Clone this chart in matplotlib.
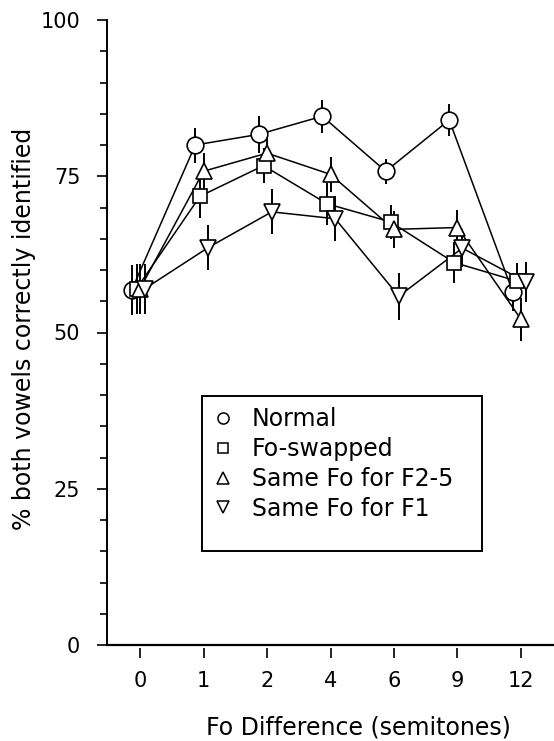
import numpy as np
from matplotlib import pyplot as plt
from matplotlib.lines import Line2D
from matplotlib.patches import Rectangle
from matplotlib.ticker import MultipleLocator

# Fo difference conditions (semitones), plotted as equally spaced categories
fo_diff = ['0', '1', '2', '4', '6', '9', '12']

normal = [56.8, 80.0, 81.7, 84.6, 75.8, 84.0, 56.5]
normal_err = [4.0, 2.8, 2.9, 2.6, 2.0, 2.5, 3.0]

fo_swapped = [57.0, 71.8, 76.7, 70.6, 67.7, 61.2, 58.2]
fo_swapped_err = [4.0, 3.4, 2.8, 3.4, 2.7, 3.2, 3.0]

same_f25 = [57.0, 75.8, 78.7, 75.3, 66.5, 66.8, 52.1]
same_f25_err = [4.0, 3.0, 2.5, 2.8, 3.0, 2.8, 3.5]

same_f1 = [57.0, 63.6, 69.3, 68.2, 55.8, 63.5, 58.1]
same_f1_err = [4.0, 3.6, 3.6, 3.6, 3.8, 3.0, 3.2]

labels = ['Normal', 'Fo-swapped', 'Same Fo for F2-5', 'Same Fo for F1']

W, H = 554, 741
fig = plt.figure(figsize=(W / 100, H / 100), dpi=100)
ax = fig.add_axes([107 / W, 96 / H, 1 - 107 / W, 625 / H])

x = np.arange(len(fo_diff))
series = [
    (normal, normal_err, 'o', 12, -0.13),
    (fo_swapped, fo_swapped_err, 's', 10, -0.055),
    (same_f25, same_f25_err, '^', 12, 0.0),
    (same_f1, same_f1_err, 'v', 12, 0.075),
]

for vals, err, mk, ms, off in series:
    xs = x + off
    ax.errorbar(xs, vals, yerr=err, fmt='none', ecolor='black',
                elinewidth=1.4, capsize=0, zorder=1, clip_on=False)
    ax.plot(xs, vals, color='black', lw=1.1, zorder=2, clip_on=False)
    ax.plot(xs, vals, ls='none', marker=mk, ms=ms, mfc='white',
            mec='black', mew=1.2, zorder=3, clip_on=False)

ax.set_xlim(-0.52, 6.52)
ax.set_ylim(0, 100)

for s in ['top', 'right']:
    ax.spines[s].set_visible(False)
ax.spines['left'].set_linewidth(1.4)
ax.spines['bottom'].set_visible(False)
ax.spines['bottom'].set_position(('outward', 2))
ax.axhline(0, color='black', lw=1.6, clip_on=False, zorder=0)

ax.set_xticks(x)
ax.set_xticklabels(fo_diff)
ax.set_yticks([0, 25, 50, 75, 100])
ax.yaxis.set_minor_locator(MultipleLocator(5))
ax.tick_params(axis='x', direction='out', length=7, width=1.2, pad=10, labelsize=15)
ax.tick_params(axis='y', which='major', direction='out', length=7.2, width=1.2,
               pad=12, labelsize=15)
ax.tick_params(axis='y', which='minor', direction='out', length=5, width=1.2)

ax.set_ylabel('% both vowels correctly identified', fontsize=17, va='center')
ax.yaxis.set_label_coords(-0.186, 0.506)
fig.text(358 / W, 1 - 727 / H, 'Fo Difference (semitones)', fontsize=17,
         ha='center', va='center')

# legend: box drawn separately, entries through the legend API
handles = [
    Line2D([], [], ls='none', marker='o', ms=8, mfc='white', mec='black', mew=1.1),
    Line2D([], [], ls='none', marker='s', ms=6.5, mfc='white', mec='black', mew=1.1),
    Line2D([], [], ls='none', marker='^', ms=8, mfc='white', mec='black', mew=1.1),
    Line2D([], [], ls='none', marker='v', ms=8, mfc='white', mec='black', mew=1.1),
]
ax.legend(handles, labels, loc='upper left', frameon=False, fontsize=17,
          bbox_to_anchor=(211 / W, 1 - 407 / H), bbox_transform=fig.transFigure,
          borderpad=0, borderaxespad=0, handlelength=1.0, handletextpad=0.74,
          labelspacing=0.25)
fig.add_artist(Rectangle((202 / W, 1 - 551 / H), 280 / W, 155 / H, fill=False,
                         lw=1.4, ec='black', transform=fig.transFigure))

plt.savefig('out.png', dpi=100)
